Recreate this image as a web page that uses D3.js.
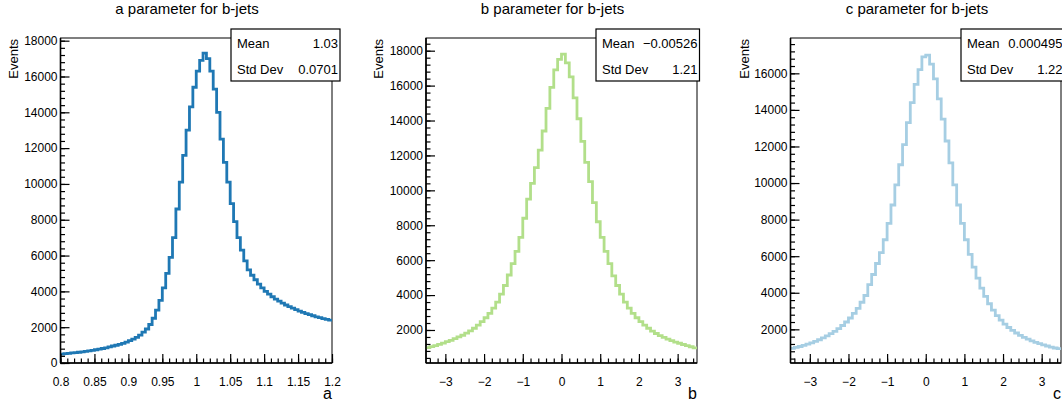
<!DOCTYPE html>
<html>
<head>
<meta charset="utf-8">
<script src="https://cdn.jsdelivr.net/npm/d3@7"></script>
<style>
  body { margin: 0; background: #fff; }
  text { font-family: "Liberation Sans", Arial, Helvetica, sans-serif; }
</style>
</head>
<body>
<div id="chart"></div>
<script>
// ---- data ----
const titles = ["a parameter for b-jets", "b parameter for b-jets", "c parameter for b-jets"];
const xTitles = ["a", "b", "c"];

const aRange = [0.8, 1.2];
const aCounts = [500,520,540,560,580,600,625,650,680,710,
  740,770,810,850,900,950,990,1040,1100,1170,
  1250,1330,1430,1560,1720,1900,2150,2500,2950,3500,
  4200,5000,5900,7000,8600,10100,11600,13000,14300,15400,
  16300,16900,17300,17000,16300,15300,14000,12500,11200,10100,
  8900,7900,7000,6300,5700,5200,4900,4650,4400,4200,
  4000,3850,3700,3570,3450,3340,3240,3150,3060,2980,
  2900,2830,2760,2700,2640,2580,2530,2480,2440,2400];

const bRange = [-3.5, 3.5];
const bCounts = [990,1050,1110,1180,1250,1330,1410,1500,1600,1700,
  1820,1950,2100,2280,2480,2700,2950,3250,3600,4050,
  4550,5150,5800,6500,7300,8400,9500,10400,11300,12300,
  13400,14700,15900,16900,17500,17800,17300,16500,15300,14100,
  12800,11600,10500,9300,8200,7300,6500,5800,5100,4550,
  4050,3600,3250,2950,2700,2480,2280,2100,1940,1800,
  1680,1580,1480,1390,1310,1240,1170,1100,1040,980];

const cRange = [-3.5, 3.5];
const cCounts = [960,1010,1060,1120,1190,1260,1340,1430,1530,1640,
  1760,1890,2040,2210,2400,2620,2870,3150,3480,3850,
  4450,5000,5600,6200,6900,7800,8800,9900,11000,12100,
  13300,14400,15400,16200,16900,17000,16500,15700,14600,13500,
  12300,11100,9900,8800,7800,6900,6100,5400,4800,4250,
  3800,3400,3050,2750,2500,2290,2100,1940,1800,1670,
  1560,1460,1370,1290,1220,1150,1090,1030,980,940];

// axis ranges (y) and ticks
const aYDomain = [0, 18150];
const bYDomain = [109, 18727];
const cYDomain = [159, 17932];
const aYTicks = [0,2000,4000,6000,8000,10000,12000,14000,16000,18000];
const bYTicks = [2000,4000,6000,8000,10000,12000,14000,16000,18000];
const cYTicks = [2000,4000,6000,8000,10000,12000,14000,16000];
const aXTicks = [0.8,0.85,0.9,0.95,1,1.05,1.1,1.15,1.2];
const bXTicks = [-3,-2,-1,0,1,2,3];
const cXTicks = [-3,-2,-1,0,1,2,3];

// stats boxes
const aStats = [["Mean", "1.03"], ["Std Dev", "0.0701"]];
const bStats = [["Mean", "\u22120.00526"], ["Std Dev", "1.21"]];
const cStats = [["Mean", "0.000495"], ["Std Dev", "1.22"]];

// ---- layout ----
const width = 1062, height = 403;
const plotTop = 38, plotBottom = 363;

const panels = [
  {title: titles[0], xTitle: xTitles[0], range: aRange, counts: aCounts, yDomain: aYDomain,
   yTicks: aYTicks, xTicks: aXTicks, stats: aStats, color: "#1f78b4",
   left: 60.5, right: 332, titleX: 187, yLabX: 18, box: [231, 340],
   yMinor: d3.range(0, 18001, 400), xMinor: d3.range(0.8, 1.2001, 0.01)},
  {title: titles[1], xTitle: xTitles[1], range: bRange, counts: bCounts, yDomain: bYDomain,
   yTicks: bYTicks, xTicks: bXTicks, stats: bStats, color: "#b2df8a",
   left: 426, right: 697, titleX: 552.5, yLabX: 383, box: [596, 699.5],
   yMinor: d3.range(400, 18401, 400), xMinor: d3.range(-3.4, 3.41, 0.2)},
  {title: titles[2], xTitle: xTitles[2], range: cRange, counts: cCounts, yDomain: cYDomain,
   yTicks: cYTicks, xTicks: cXTicks, stats: cStats, color: "#a6cee3",
   left: 790.5, right: 1061, titleX: 917, yLabX: 749, box: [961, 1064.5],
   yMinor: d3.range(400, 17601, 400), xMinor: d3.range(-3.4, 3.41, 0.2)}
];

const svg = d3.select("#chart").append("svg")
  .attr("width", width).attr("height", height)
  .attr("viewBox", `0 0 ${width} ${height}`);

const fmtX = d => d < 0 ? "\u2212" + Math.abs(d) : String(d);

panels.forEach(p => {
  const x = d3.scaleLinear().domain(p.range).range([p.left, p.right]);
  const y = d3.scaleLinear().domain(p.yDomain).range([plotBottom, plotTop]);
  const g = svg.append("g");

  // frame
  g.append("rect")
    .attr("x", p.left).attr("y", plotTop)
    .attr("width", p.right - p.left).attr("height", plotBottom - plotTop)
    .attr("fill", "none").attr("stroke", "#000").attr("stroke-width", 1);

  // histogram outline
  const n = p.counts.length;
  const bw = (p.range[1] - p.range[0]) / n;
  const pts = p.counts.map((v, i) => [p.range[0] + i * bw, v]);
  pts.push([p.range[1], p.counts[n - 1]]);
  const line = d3.line().x(d => x(d[0])).y(d => y(d[1])).curve(d3.curveStepAfter);
  g.append("path")
    .attr("d", line(pts))
    .attr("fill", "none")
    .attr("stroke", p.color)
    .attr("stroke-width", 2.8)
    .attr("stroke-linejoin", "miter");

  // axes (ticks inside the frame, ROOT style)
  const yMajor = g.append("g").attr("transform", `translate(${p.left},0)`)
    .call(d3.axisLeft(y).tickValues(p.yTicks).tickSize(-9).tickPadding(3).tickFormat(d3.format("d")));
  const yMin = g.append("g").attr("transform", `translate(${p.left},0)`)
    .call(d3.axisLeft(y).tickValues(p.yMinor.filter(v => v >= p.yDomain[0] && v <= p.yDomain[1])).tickSize(-4.5).tickFormat(""));
  const xMajor = g.append("g").attr("transform", `translate(0,${plotBottom})`)
    .call(d3.axisBottom(x).tickValues(p.xTicks).tickSize(-9).tickPadding(14.5).tickFormat(fmtX));
  const xMin = g.append("g").attr("transform", `translate(0,${plotBottom})`)
    .call(d3.axisBottom(x).tickValues(p.xMinor).tickSize(-4.5).tickFormat(""));

  [yMajor, yMin, xMajor, xMin].forEach(a => {
    a.select(".domain").remove();
    a.attr("font-family", null).attr("font-size", null);
    a.selectAll("line").attr("stroke", "#000").attr("stroke-width", 1.2);
    a.selectAll("text").attr("fill", "#000").style("font-size", "12px");
  });

  // heavier axis lines
  g.append("line").attr("x1", p.left).attr("x2", p.left).attr("y1", plotTop).attr("y2", plotBottom)
    .attr("stroke", "#000").attr("stroke-width", 1.6);
  g.append("line").attr("x1", p.left).attr("x2", p.right).attr("y1", plotBottom).attr("y2", plotBottom)
    .attr("stroke", "#000").attr("stroke-width", 1.6);

  // title
  g.append("text")
    .attr("x", p.titleX).attr("y", 14)
    .attr("text-anchor", "middle")
    .style("font-size", "15px")
    .text(p.title);

  // y title
  g.append("text")
    .attr("transform", `translate(${p.yLabX},${plotTop + 1}) rotate(-90)`)
    .attr("text-anchor", "end")
    .style("font-size", "13px")
    .text("Events");

  // x title
  g.append("text")
    .attr("x", p.right).attr("y", 399)
    .attr("text-anchor", "end")
    .style("font-size", "16px")
    .text(p.xTitle);

  // stats box
  const [bx0, bx1] = p.box;
  g.append("rect")
    .attr("x", bx0).attr("y", 29)
    .attr("width", bx1 - bx0).attr("height", 52)
    .attr("fill", "#fff").attr("stroke", "#000").attr("stroke-width", 1.2);
  p.stats.forEach((s, i) => {
    const ty = 48 + i * 26;
    g.append("text").attr("x", bx0 + 6).attr("y", ty)
      .style("font-size", "13px").text(s[0]);
    g.append("text").attr("x", bx1 - 2).attr("y", ty)
      .attr("text-anchor", "end")
      .style("font-size", "13px").text(s[1]);
  });
});
</script>
</body>
</html>
